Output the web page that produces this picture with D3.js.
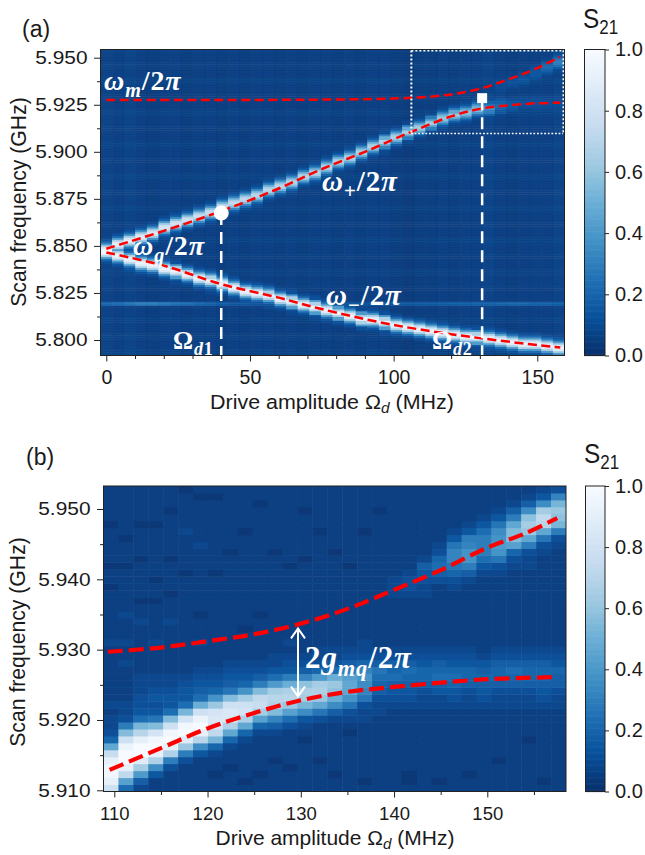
<!DOCTYPE html>
<html><head><meta charset="utf-8">
<script src="https://cdnjs.cloudflare.com/ajax/libs/d3/7.8.5/d3.min.js"></script>
<style>html,body{margin:0;padding:0;background:#fff}svg{display:block}
text{font-family:"Liberation Sans",Arial,sans-serif;fill:#1a1a1a}
.m{font-family:"Liberation Serif",serif;font-weight:bold;fill:#fff;letter-spacing:.9px}
</style></head><body><div id="c"></div>
<script>
// ---------- colour map stops (reversed Blues) ----------
const blues=["#08306b","#08519c","#2171b5","#4292c6","#6baed6","#9ecae1","#c6dbef","#deebf7","#f7fbff"];
// ---------- panel (a) data: one entry per drive-amplitude column ----------
const aColumns=[0,4,8,12,16,20,24,28,32,36,40,44,48,52,56,60,64,68,72,76,80,84,88,92,96,100,104,108,112,116,120,124,128,132,136,140,144,148,152,156];
const aUpperCentre=[5.848,5.851,5.853,5.855,5.857,5.860,5.862,5.864,5.866,5.868,5.871,5.873,5.875,5.877,5.880,5.882,5.884,5.887,5.889,5.892,5.895,5.897,5.9,5.903,5.9055,5.908,5.9105,5.913,5.9155,5.9175,5.9195,5.921,5.9225,5.9235,5.9245,5.925,5.926,5.926,5.926,5.926];
const aUpperPeak=[.95,.92,.9,.88,.86,.84,.82,.8,.78,.78,.76,.75,.74,.72,.72,.72,.7,.7,.7,.7,.68,.68,.68,.68,.68,.68,.66,.64,.64,.62,.62,.58,.55,.38,.24,.17,.13,.13,.12,.12];
const aLowerCentre=[5.847,5.845,5.843,5.841,5.840,5.838,5.8365,5.835,5.833,5.8315,5.8295,5.828,5.826,5.825,5.8235,5.822,5.8205,5.819,5.8175,5.816,5.8145,5.813,5.8115,5.8105,5.8095,5.808,5.807,5.806,5.805,5.804,5.803,5.802,5.8015,5.8005,5.800,5.799,5.798,5.7975,5.797,5.796];
const aLowerPeak=[1,.95,.94,.94,.94,.94,.94,.94,.94,.94,.94,.94,.94,.94,.94,.94,.94,.94,.94,.94,.94,.94,.94,.94,.94,.94,.94,.94,.94,.94,.94,.94,.94,.94,.94,.94,.94,.94,.94,.94];
const aMagnonCols=[34,35,36,37,38,39];
const aMagnonCentre=[5.935,5.937,5.939,5.942,5.945,5.948];
const aMagnonPeak=[.11,.12,.13,.16,.22,.3];
const aBase=[.075,.065,.075,.065,.055,.065,.065,.055,.065,.065,.055,.065,.055,.065,.065,.055,.065,.055,.065,.065,.055,.065,.055,.065,.065,.055,.045,.055,.055,.065,.055,.065,.065,.075,.065,.055,.065,.065,.065,.075];
const aSpurFreq=5.8195;
const aSpur=[.2,.22,.25,.28,.28,.26,.24,.22,.2,.18,.16,.14,.14,.13,.13,.12,.12,.12,.12,.12,.12,.12,.12,.12,.13,.14,.14,.15,.15,.16,.17,.17,.18,.18,.19,.2,.2,.18,.18,.17];
const aProfile=[1,.92,.7,.4,.18,.07,.03];
const aFitXm=[0,40,80,100,110,120,130,140,150,158];
const aFitYm=[5.9275,5.9275,5.9278,5.9283,5.9290,5.9305,5.9335,5.9385,5.9445,5.9505];
const aFitXp=[0,20,40,60,74.5,90,106,120,130,140,150,158];
const aFitYp=[5.8485,5.858,5.8685,5.8805,5.8905,5.900,5.9105,5.9188,5.9228,5.9247,5.9258,5.9261];
const aFitXn=[0,20,40,60,74.5,100,130,158];
const aFitYn=[5.8465,5.8395,5.8297,5.8225,5.8166,5.808,5.801,5.796];
// ---------- panel (b) data: one string per column, bottom row first, base-36 levels ----------
const bColumns=[
"swyywrh854 4343333333 3433333332 3323333323 3333",
"9gqwzzxskb 5443333343 3433343333 3323332333 3333",
"47fnvzzwpj 9655444333 3333433233 3332333323 3333",
"336dowzytk a656544333 3433333233 2333333323 3333",
"3335bowzys k966544333 3333433323 3332333333 2333",
"33335bmvzy tj96654333 3333333333 3233333433 3332",
"333336dpwz xsi9765433 3433323333 3333343333 3323",
"3323348jqt utme865433 3333333333 3233333333 3323",
"33323348ho uuska76543 3333333333 3333233333 3333",
"323333348h otsne86543 3332333333 3333333233 3333",
"3323333348 gnrqkb7543 3333323333 3333333333 3233",
"3333233347 ckopnf9644 3333333333 3333233333 3333",
"3332333335 9gmpoib654 3433333333 3323333333 3333",
"3333333234 6djnolc754 3333333333 3332333333 2333",
"3333233333 5ahmonf854 4333333333 3333333233 3333",
"3323333333 47dilmi964 4333333333 3333233333 3333",
"3333333323 45aehhgb75 4333333333 3323333333 3333",
"3233333333 445acdec85 4433333333 3333333233 3333",
"3333333333 3445789a75 4333333333 3333333333 2333",
"3333333333 3345679875 4333333344 4333333333 3333",
"3223333333 3345678975 4333333345 5433333333 3333",
"3333333333 3344578865 4333333344 5674333333 3333",
"3233333333 3344679875 4333333333 5798543333 3333",
"3333333333 3345689865 4333333334 58acca6433 3333",
"3323333333 3344578865 4333333333 47beecb643 3333",
"3333333333 3345678764 3333333333 3469bbb964 3333",
"3333233333 3344578875 4333333333 345aefeda6 4333",
"3333333333 3344578975 4333333333 33458gkkhb 7433",
"3333333233 3344578875 4333333333 33445bhmnl d743",
"3233333333 3345678875 4333333333 333345ahpq nd64",
"3333333333 3344577865 4333333333 3333345bjl mjc5"
];
const bRows=44;
const bFitX1=[109.3,115,120,125,130,135,140,145,150,154,157.5];
const bFitY1=[5.9297,5.9303,5.9312,5.9322,5.9337,5.9358,5.9385,5.9413,5.9445,5.9465,5.9487];
const bFitX2=[109.5,115,120,125,130,135,140,145,150,157.5];
const bFitY2=[5.9129,5.9160,5.9188,5.9210,5.9228,5.9240,5.9247,5.9253,5.9258,5.9261];
// ---------- ticks ----------
const aXTicks=[0,50,100,150], aXMinor=[10,20,30,40,60,70,80,90,110,120,130,140];
const aYTicks=[5.800,5.825,5.850,5.875,5.900,5.925,5.950];
const aYMinor=[5.8125,5.8375,5.8625,5.8875,5.9125,5.9375];
const bXTicks=[110,120,130,140,150], bXMinor=[115,125,135,145,155];
const bYTicks=[5.910,5.920,5.930,5.940,5.950], bYMinor=[5.915,5.925,5.935,5.945];
const cbTicks=[0,.2,.4,.6,.8,1];

const W=645,H=855;
const SANS='"Liberation Sans",Arial,sans-serif';
const svg=d3.select("#c").append("svg").attr("width",W).attr("height",H);
const color=d3.scaleLinear().domain(blues.map((_,i)=>i/8)).range(blues).clamp(true);
const defs=svg.append("defs");
const blur=(id,s)=>defs.append("filter").attr("id",id).attr("x",0).attr("y",0).attr("width",1).attr("height",1)
  .append("feGaussianBlur").attr("stdDeviation",s);
blur("softA",.3);blur("softB",.45);

// scales
const xA=d3.scaleLinear().domain([0,150]).range([106.3,537.3]);
const yA=d3.scaleLinear().domain([5.8,5.95]).range([340,57.7]);
const xB=d3.scaleLinear().domain([110,150]).range([114.3,487.3]);
const yB=d3.scaleLinear().domain([5.91,5.95]).range([790.3,509]);
const boxA={l:100.5,r:564.5,t:49.5,b:355.5};
const boxB={l:103.5,r:566,t:486,b:791.5};
const clip=(id,b)=>defs.append("clipPath").attr("id",id).append("rect").attr("x",b.l).attr("y",b.t).attr("width",b.r-b.l).attr("height",b.b-b.t);
clip("ca",boxA);clip("cb",boxB);

// ---- panel a heat map
const aCols=d3.scaleBand().domain(aColumns).range([boxA.l,boxA.r]);
const aStep=0.001;
const aFreqs=d3.range(5.7915,5.9545,aStep);
const gA=svg.append("g").attr("clip-path","url(#ca)");
const aCells=[];
aColumns.forEach((c,i)=>{
  aFreqs.forEach(f=>{
    let v=aBase[i];
    const mid=f+aStep/2;
    if(Math.abs(mid-aSpurFreq)<aStep) v=Math.max(v,aSpur[i]);
    const add=(cen,pk)=>{const k=Math.round(Math.abs(mid-cen)/aStep);
      if(k<aProfile.length) v=Math.max(v,aBase[i]+(pk-aBase[i])*aProfile[k]);};
    add(aUpperCentre[i],aUpperPeak[i]);
    add(aLowerCentre[i],aLowerPeak[i]);
    const m=aMagnonCols.indexOf(i);
    if(m>=0) add(aMagnonCentre[m],aMagnonPeak[m]);
    aCells.push({c,f,v});
  });
});
gA.append("g").attr("filter","url(#softA)").selectAll("rect").data(aCells).join("rect")
  .attr("x",d=>aCols(d.c)).attr("width",aCols.bandwidth()+.5)
  .attr("y",d=>yA(d.f+aStep)).attr("height",d=>yA(d.f)-yA(d.f+aStep)+.5)
  .attr("fill",d=>color(d.v));

// ---- panel b heat map
const bCols=d3.scaleBand().domain(d3.range(bColumns.length)).range([boxB.l,boxB.r]);
const bRowS=d3.scaleBand().domain(d3.range(bRows)).range([boxB.b,boxB.t]);
const bCells=[];
bColumns.forEach((s,c)=>{const t=s.replace(/ /g,"");d3.range(bRows).forEach(r=>bCells.push({c,r,v:(parseInt(t[r]||"3",36)-1)/34}));});
const gB=svg.append("g").attr("clip-path","url(#cb)");
gB.append("g").attr("filter","url(#softB)").selectAll("rect").data(bCells).join("rect")
  .attr("x",d=>bCols(d.c)).attr("width",bCols.bandwidth()+.5)
  .attr("y",d=>bRowS(d.r)).attr("height",bRowS.bandwidth()+.5)
  .attr("fill",d=>color(d.v));

// ---- fits
const line=(x,y)=>d3.line().x(d=>x(d[0])).y(d=>y(d[1])).curve(d3.curveCatmullRom);
const drawFit=(g,xs,ys,x,y,w,dash)=>g.append("path").datum(xs.map((v,i)=>[v,ys[i]])).attr("d",line(x,y))
  .attr("fill","none").attr("stroke","#ff0000").attr("stroke-width",w).attr("stroke-dasharray",dash);
[[aFitXm,aFitYm],[aFitXp,aFitYp],[aFitXn,aFitYn]].forEach(([a,b])=>drawFit(svg,a,b,xA,yA,2.5,"9,4.5"));
[[bFitX1,bFitY1],[bFitX2,bFitY2]].forEach(([a,b])=>drawFit(svg,a,b,xB,yB,4.2,"15,6"));

// ---- panel a overlays
const marker1=[40,5.8675], marker2=[130.8,5.9285];
const dashed=(mk)=>svg.append("line").attr("x1",xA(mk[0])).attr("x2",xA(mk[0])).attr("y1",yA(mk[1])).attr("y2",boxA.b)
  .attr("stroke","#fff").attr("stroke-width",2.5).attr("stroke-dasharray","12,7");
dashed(marker1);dashed(marker2);
svg.append("circle").attr("cx",xA(marker1[0])).attr("cy",yA(marker1[1])).attr("r",7.5).attr("fill","#fff");
svg.append("rect").attr("x",xA(marker2[0])-5).attr("y",yA(marker2[1])-5).attr("width",10).attr("height",10).attr("fill","#fff");
const zoomLeft=106;
svg.append("path").attr("d",`M${xA(zoomLeft)+.5},50.5V133.5`).attr("stroke","#fff").attr("stroke-width",2).attr("stroke-dasharray","2,2").attr("fill","none");
svg.append("path").attr("d",`M${xA(zoomLeft)+.5},50.5H563.5V133.5`).attr("stroke","#fff").attr("stroke-width",2).attr("stroke-dasharray","2,2").attr("fill","none");
svg.append("path").attr("d",`M411,133.5H563`).attr("stroke","#fff").attr("stroke-width",1.6).attr("stroke-dasharray","1.8,1.8").attr("fill","none");

// ---- panel b arrow
const arrowX=xB(129.7), arrowY=[5.9333,5.9232];
svg.append("line").attr("x1",arrowX).attr("x2",arrowX).attr("y1",yB(arrowY[0])+2).attr("y2",yB(arrowY[1])-1).attr("stroke","#fff").attr("stroke-width",2);
svg.append("path").attr("d",`M${arrowX-7},${yB(arrowY[0])+12}L${arrowX},${yB(arrowY[0])+2}L${arrowX+7},${yB(arrowY[0])+12}M${arrowX-7},${yB(arrowY[1])-11}L${arrowX},${yB(arrowY[1])-1}L${arrowX+7},${yB(arrowY[1])-11}`)
  .attr("stroke","#fff").attr("stroke-width",2).attr("fill","none");

// ---- math labels: segments are [text, italic?, subscript?]
function mlabel(x,y,size,segs){
  const t=svg.append("text").attr("class","m").attr("x",x).attr("y",y).attr("font-size",size);
  let low=false;
  segs.forEach(([s,it,sub])=>{
    const sp=t.append("tspan").text(s).attr("font-style",it?"italic":"normal").attr("font-size",sub?size*.72:size);
    if(sub&&!low){sp.attr("dy",size*.25);low=true;}
    else if(!sub&&low){sp.attr("dy",-size*.25);low=false;}
  });
}
const over2pi=[["/",0,0],["2",0,0],["π",1,0]];
mlabel(104,90,28,[["ω",1,0],["m",1,1],...over2pi]);
mlabel(133,255,28,[["ω",1,0],["q",1,1],...over2pi]);
mlabel(322,191,29,[["ω",1,0],["+",0,1],...over2pi]);
mlabel(326,305,29,[["ω",1,0],["−",0,1],...over2pi]);
mlabel(173,349,25,[["Ω",0,0],["d",1,1],["1",0,1]]);
mlabel(432,349,25,[["Ω",0,0],["d",1,1],["2",0,1]]);
mlabel(305,668,31,[["2",0,0],["g",1,0],["mq",1,1],...over2pi]);

// ---- axes
function axes(x,y,b,xt,xm,yt,ym,xs,xpad,ys,ysx){
  const g=svg.append("g");
  const ax=g.append("g").attr("transform",`translate(0,${b.b})`).call(d3.axisBottom(x).tickValues(xt).tickFormat(d3.format("d")).tickSize(6).tickPadding(xpad));
  g.append("g").attr("transform",`translate(0,${b.b})`).call(d3.axisBottom(x).tickValues(xm).tickFormat("").tickSize(3.5));
  const ay=g.append("g").attr("transform",`translate(${b.l},0)`).call(d3.axisLeft(y).tickValues(yt).tickFormat(d3.format(".3f")).tickSize(6.5));
  g.append("g").attr("transform",`translate(${b.l},0)`).call(d3.axisLeft(y).tickValues(ym).tickFormat("").tickSize(3.5));
  g.selectAll(".domain").remove();
  g.selectAll("line").attr("stroke","#222").attr("stroke-width",1);
  ax.selectAll("text").attr("font-size",xs).attr("font-family",SANS).attr("fill","#1a1a1a");
  ay.selectAll("text").attr("font-size",ys).attr("font-family",SANS).attr("fill","#1a1a1a")
    .attr("x",-13/ysx).attr("transform",`scale(${ysx},1)`);
  g.append("rect").attr("x",b.l).attr("y",b.t).attr("width",b.r-b.l).attr("height",b.b-b.t).attr("fill","none").attr("stroke","#222").attr("stroke-width",1);
}
axes(xA,yA,boxA,aXTicks,aXMinor,aYTicks,aYMinor,19.5,8.7,18.5,1.13);
axes(xB,yB,boxB,bXTicks,bXMinor,bYTicks,bYMinor,18.5,9.4,18.5,1.13);

function axisLabels(xc,xb,size,sx,yx,yc){
  const t=svg.append("text").attr("transform",`translate(${xc},${xb}) scale(${sx},1)`).attr("text-anchor","middle").attr("font-size",size);
  t.append("tspan").text("Drive amplitude Ω");
  t.append("tspan").attr("dy",4).attr("font-size",size*.72).attr("font-style","italic").text("d");
  t.append("tspan").attr("dy",-4).text(" (MHz)");
  svg.append("text").attr("transform",`translate(${yx},${yc}) rotate(-90)`).attr("text-anchor","middle").attr("font-size",21.2).text("Scan frequency (GHz)");
}
axisLabels(332,409,19.5,1.1,26,202);
axisLabels(335,845,20,1.05,25,642);

// ---- colour bars
function colorbar(x0,x1,y0,y1,titleY){
  const s=d3.scaleLinear().domain([0,1]).range([y1,y0]);
  const g=svg.append("g");
  g.selectAll("rect").data(d3.range(256)).join("rect").attr("x",x0).attr("width",x1-x0)
    .attr("y",d=>s((d+1)/256)).attr("height",(y1-y0)/256+.6).attr("fill",d=>color(d/255));
  g.append("rect").attr("x",x0).attr("y",y0).attr("width",x1-x0).attr("height",y1-y0).attr("fill","none").attr("stroke","#222");
  const a=g.append("g").attr("transform",`translate(${x1},0)`).call(d3.axisRight(s).tickValues(cbTicks).tickFormat(d3.format(".1f")).tickSize(4).tickPadding(6));
  a.select(".domain").remove();
  a.selectAll("line").attr("stroke","#222");
  a.selectAll("text").attr("font-size",20).attr("font-family",SANS).attr("fill","#1a1a1a");
  const t=svg.append("text").attr("transform",`translate(${x0-1.5},${titleY}) scale(.87,1)`).attr("font-size",28);
  t.append("tspan").text("S");
  t.append("tspan").attr("dy",6).attr("font-size",19.5).text("21");
}
colorbar(584.5,605,49.5,355.5,28);
colorbar(585.5,605,486,791.5,463);

// ---- panel tags
svg.append("text").attr("x",22).attr("y",37).attr("font-size",23).text("(a)");
svg.append("text").attr("x",26).attr("y",465).attr("font-size",23).text("(b)");
</script></body></html>
